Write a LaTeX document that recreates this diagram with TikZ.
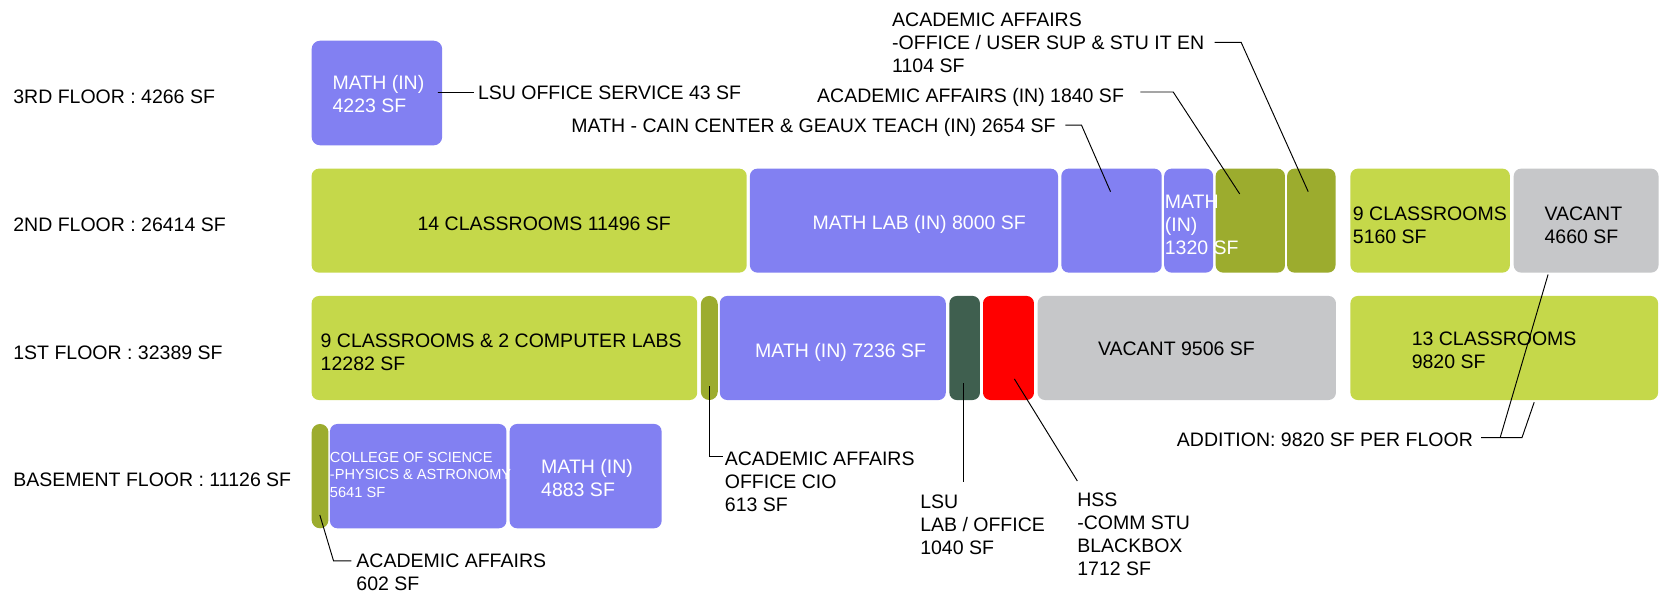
\documentclass[tikz,border=0pt]{standalone}
\usepackage{fontspec}
\setmainfont{Liberation Sans}
\usetikzlibrary{calc}
\definecolor{cgreen}{RGB}{197,216,74}
\definecolor{cpurple}{RGB}{130,128,242}
\definecolor{colive}{RGB}{156,172,46}
\definecolor{cgray}{RGB}{198,199,201}
\definecolor{cdkgreen}{RGB}{63,95,79}
\definecolor{cred}{RGB}{255,0,0}
\newcommand\flbox[7]{\node[fbox, fill=#6, rounded corners=#7, minimum width={(#4-#2)*1pt}, minimum height={(#5-#3)*1pt}] (#1) at ({(#2+#4)/2},{(#3+#5)/2}) {};}
\tikzset{
  fbox/.style={rectangle, draw=none, inner sep=0pt, outer sep=0pt},
  txt/.style={inner sep=0pt, outer sep=0pt, font=\fontsize{18.4}{21.6}\selectfont, align=left, text=black},
  wtxt/.style={txt, text=white},
  lead/.style={draw=black, line width=0.9pt}
}
\begin{document}
\begin{tikzpicture}[x=1pt,y=-1pt]
\useasboundingbox (0,0) rectangle (1568,559);
\fill[white] (0,0) rectangle (1568,559);
% floor labels
\node[txt, anchor=base west] (l3) at (12.6,97.8) {3RD FLOOR : 4266 SF};
\node[txt, anchor=base west] (l2) at (12.6,218.2) {2ND FLOOR : 26414 SF};
\node[txt, anchor=base west] (l1) at (12.6,338.7) {1ST FLOOR : 32389 SF};
\node[txt, anchor=base west] (lb) at (12.6,458.8) {BASEMENT FLOOR : 11126 SF};
% 3rd floor
\flbox{m3}{294}{38.4}{417.2}{137.1}{cpurple}{8pt}
% 2nd floor
\flbox{c14}{294}{159.1}{704.5}{257.2}{cgreen}{7pt}
\flbox{mathlab}{707.5}{159.1}{998.2}{257.2}{cpurple}{7pt}
\flbox{cain}{1001.3}{159.1}{1096}{257.2}{cpurple}{7pt}
\flbox{m1320}{1098.3}{159.1}{1144.5}{257.2}{cpurple}{7pt}
\flbox{aa1840}{1146.9}{159.1}{1212.3}{257.2}{colive}{7pt}
\flbox{aaoff}{1214.3}{159.1}{1260}{257.2}{colive}{7pt}
\flbox{c9}{1274}{159.1}{1424.5}{257.2}{cgreen}{7pt}
\flbox{vac4660}{1428.1}{159.1}{1564.7}{257.2}{cgray}{7pt}
% 1st floor
\flbox{c9b}{294}{279.2}{657.8}{377.4}{cgreen}{7pt}
\flbox{aacio}{661.2}{279.2}{677.2}{377.4}{colive}{7.9pt}
\flbox{m7236}{679.1}{279.2}{892.3}{377.4}{cpurple}{7pt}
\flbox{lsulab}{895.7}{279.2}{924.5}{377.4}{cdkgreen}{7pt}
\flbox{hss}{927.4}{279.2}{975.5}{377.4}{cred}{7pt}
\flbox{vac9506}{978.9}{279.2}{1260.4}{377.4}{cgray}{7pt}
\flbox{c13}{1274}{279.2}{1564.3}{377.4}{cgreen}{7pt}
% basement
\flbox{aa602}{294}{400}{309.9}{498.4}{colive}{7.9pt}
\flbox{cos}{311.3}{400}{477.8}{498.4}{cpurple}{7pt}
\flbox{m4883}{480.8}{400}{624.2}{498.4}{cpurple}{7pt}
% texts in boxes (base anchor = baseline of last line)
\node[wtxt, anchor=base west] (tm3) at (313.8,106.2) {MATH (IN)\\4223 SF};
\node[txt, anchor=base] (tc14) at (513.5,217.5) {14 CLASSROOMS 11496 SF};
\node[wtxt, anchor=base] (tml) at (867.3,216.5) {MATH LAB (IN) 8000 SF};
\node[wtxt, anchor=base west] (tm1320) at (1099,240.1) {MATH\\(IN)\\1320 SF};
\node[txt, anchor=base west] (tc9) at (1276.4,229.5) {9 CLASSROOMS\\5160 SF};
\node[txt, anchor=base west] (tv4660) at (1457.2,229.5) {VACANT\\4660 SF};
\node[txt, anchor=base west] (tc9b) at (302.6,349.6) {9 CLASSROOMS \& 2 COMPUTER LABS\\12282 SF};
\node[wtxt, anchor=base] (tm7236) at (793.1,337.4) {MATH (IN) 7236 SF};
\node[txt, anchor=base] (tv9506) at (1109.9,335.2) {VACANT 9506 SF};
\node[txt, anchor=base west] (tc13) at (1331.9,347.4) {13 CLASSROOMS\\9820 SF};
\node[wtxt, anchor=base west, font=\fontsize{13.8}{16.1}\selectfont] (tcos) at (311.3,468.9) {COLLEGE OF SCIENCE\\-PHYSICS \& ASTRONOMY\\5641 SF};
\node[wtxt, anchor=base west] (tm4883) at (510.6,468.5) {MATH (IN)\\4883 SF};
% outside labels
\node[txt, anchor=base west] (llsu) at (451,94) {LSU OFFICE SERVICE 43 SF};
\node[txt, anchor=base east] (lcain) at (995.8,125.2) {MATH - CAIN CENTER \& GEAUX TEACH (IN) 2654 SF};
\node[txt, anchor=base west] (l1840) at (771,96.9) {ACADEMIC AFFAIRS (IN) 1840 SF};
\node[txt, anchor=base west] (loff) at (841.7,68.0) {ACADEMIC AFFAIRS\\-OFFICE / USER SUP \& STU IT EN\\1104 SF};
\node[txt, anchor=base west] (lcio) at (683.9,482.2) {ACADEMIC AFFAIRS\\OFFICE CIO\\613 SF};
\node[txt, anchor=base west] (llab) at (868.2,523.1) {LSU\\LAB / OFFICE\\1040 SF};
\node[txt, anchor=base west] (lhss) at (1016.4,543.1) {HSS\\-COMM STU\\BLACKBOX\\1712 SF};
\node[txt, anchor=base west] (l602) at (336.3,557.4) {ACADEMIC AFFAIRS\\602 SF};
\node[txt, anchor=base west] (ladd) at (1110.4,421.7) {ADDITION: 9820 SF PER FLOOR};
% leader end points inside boxes
\coordinate (cainpt) at (1047.7,180.8);
\coordinate (aapt) at (1169.6,183);
\coordinate (offpt) at (1234.2,180.8);
\coordinate (ciopt) at (669.4,364.2);
\coordinate (labpt) at (909.2,361.6);
\coordinate (labend) at (909.2,454.4);
\coordinate (hsspt) at (957,357.5);
\coordinate (aa602pt) at (301.7,485.8);
\coordinate (addA) at (1460.5,259);
\coordinate (addB) at (1447.4,379.5);
\coordinate (addj) at (1415.3,412.9);
\coordinate (addk) at (1435.9,412.9);
% leaders
\draw[lead] ([xshift=-4pt]llsu.west) -- ([xshift=-4pt]llsu.west -| m3.east) -- ++(4,0);
\draw[lead] ([xshift=9.3pt,yshift=7.2pt]lcain.base east) -- ++(15.2,0) -- (cainpt);
\draw[lead] ([xshift=15.4pt,yshift=10.1pt]l1840.base east) -- ++(31.1,0) -- (aapt);
\draw[lead] ([xshift=9.7pt,yshift=28.1pt]loff.base east) -- ++(25.1,0) -- (offpt);
\draw[lead] (ciopt) |- ([xshift=-2pt,yshift=51.4pt]lcio.base west);
\draw[lead] (labpt) -- (labend);
\draw[lead] (hsspt) -- ([yshift=89.3pt]lhss.base west);
\draw[lead] (aa602pt) -- ([xshift=-21.6pt,yshift=28.2pt]l602.base west) -- ([xshift=-4.8pt,yshift=28.2pt]l602.base west);
\draw[lead] ([xshift=7.8pt,yshift=8.8pt]ladd.base east) -- (addk) -- (addB);
\draw[lead] (addj) -- (addA);
\end{tikzpicture}
\end{document}
